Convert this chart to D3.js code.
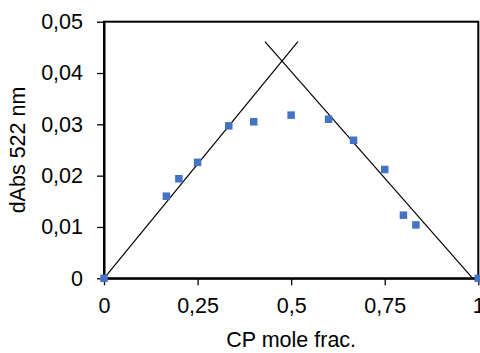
<!DOCTYPE html>
<html>
<head>
<meta charset="utf-8">
<script src="https://cdn.jsdelivr.net/npm/d3@7.9.0/dist/d3.min.js"></script>
<style>
  body { margin: 0; background: #fff; }
  svg { display: block; }
  text { font-family: "Liberation Sans", Arial, sans-serif; }
</style>
</head>
<body>
<div id="chart"></div>
<script>
// measured points (CP mole fraction vs dAbs at 522 nm)
const moleFrac = [0, 0.1667, 0.2, 0.25, 0.3333, 0.4, 0.5, 0.6, 0.6667, 0.75, 0.8, 0.8333, 1];
const dAbs = [0, 0.0160, 0.0194, 0.0226, 0.0297, 0.0305, 0.0318, 0.0310, 0.0269, 0.0212, 0.0123, 0.0104, 0];

// hand-drawn fit lines
const riseX = [0, 0.518];
const riseY = [0, 0.0461];
const fallX = [0.43, 0.985];
const fallY = [0.0461, 0];

// axes
const xTicks = [0, 0.25, 0.5, 0.75, 1];
const xTickLabels = ["0", "0,25", "0,5", "0,75", "1"];
const yTicks = [0, 0.01, 0.02, 0.03, 0.04, 0.05];
const yTickLabels = ["0", "0,01", "0,02", "0,03", "0,04", "0,05"];

const W = 480, H = 353;
const margin = {top: 21.7, right: 1.7, bottom: 74.7, left: 104};
const width = W - margin.left - margin.right;
const height = H - margin.top - margin.bottom;

const svg = d3.select("#chart")
    .append("svg")
    .attr("width", W)
    .attr("height", H);

const g = svg.append("g")
    .attr("transform", `translate(${margin.left},${margin.top})`);

const x = d3.scaleLinear().domain([0, 1]).range([0, width]);
const y = d3.scaleLinear().domain([0, 0.05]).range([height, 0]);

// frame
g.append("rect")
    .attr("width", width)
    .attr("height", height)
    .attr("fill", "none")
    .attr("stroke", "#000")
    .attr("stroke-width", 2);

// x axis
const xAxis = g.append("g")
    .attr("transform", `translate(0,${height})`)
    .call(d3.axisBottom(x)
        .tickValues(xTicks)
        .tickFormat((d, i) => xTickLabels[i])
        .tickSizeInner(7)
        .tickSizeOuter(0)
        .tickPadding(12));

// y axis
const yAxis = g.append("g")
    .call(d3.axisLeft(y)
        .tickValues(yTicks)
        .tickFormat((d, i) => yTickLabels[i])
        .tickSizeInner(7)
        .tickSizeOuter(0)
        .tickPadding(14));

[xAxis, yAxis].forEach(a => {
    a.select(".domain").attr("stroke", "#000").attr("stroke-width", 2);
    a.selectAll(".tick line").attr("stroke", "#000").attr("stroke-width", 1.3);
    a.selectAll(".tick text")
        .attr("fill", "#000")
        .attr("font-size", "21.5px")
        .attr("font-family", "Liberation Sans, Arial, sans-serif");
});

// fit lines
const line = d3.line()
    .x(d => x(d[0]))
    .y(d => y(d[1]));

g.append("path")
    .datum(d3.zip(riseX, riseY))
    .attr("fill", "none")
    .attr("stroke", "#000")
    .attr("stroke-width", 1.2)
    .attr("d", line);

g.append("path")
    .datum(d3.zip(fallX, fallY))
    .attr("fill", "none")
    .attr("stroke", "#000")
    .attr("stroke-width", 1.2)
    .attr("d", line);

// markers
const s = 7.5;
g.selectAll("rect.pt")
    .data(d3.zip(moleFrac, dAbs))
    .join("rect")
    .attr("class", "pt")
    .attr("x", d => x(d[0]) - s / 2)
    .attr("y", d => y(d[1]) - s / 2)
    .attr("width", s)
    .attr("height", s)
    .attr("fill", "#4472C4");

// labels
svg.append("text")
    .attr("x", margin.left + width / 2)
    .attr("y", 347)
    .attr("text-anchor", "middle")
    .attr("font-size", "21.5px")
    .text("CP mole frac.");

svg.append("text")
    .attr("transform", "rotate(-90)")
    .attr("x", -(margin.top + height / 2))
    .attr("y", 25)
    .attr("text-anchor", "middle")
    .attr("font-size", "21.5px")
    .text("dAbs 522 nm");
</script>
</body>
</html>
